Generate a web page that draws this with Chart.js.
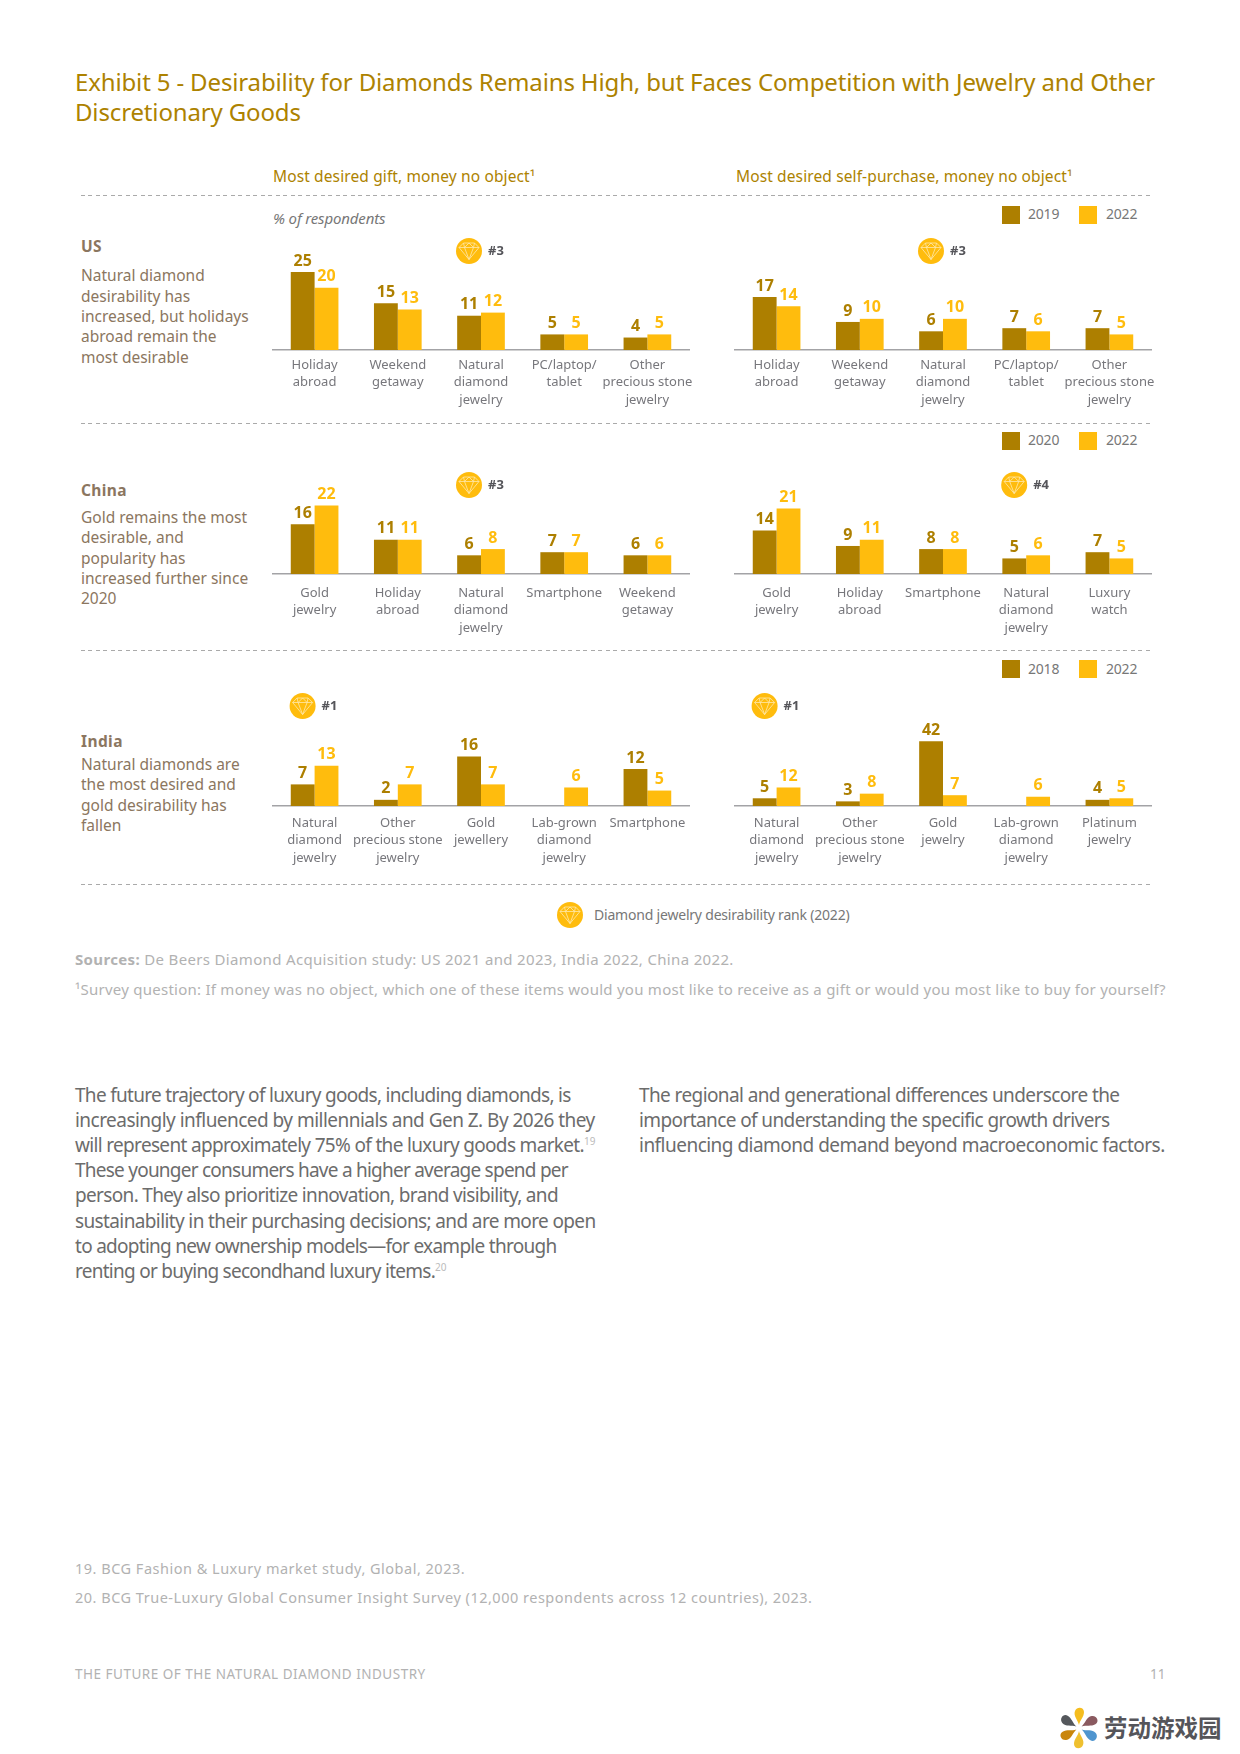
<!DOCTYPE html>
<html>
<head>
<meta charset="utf-8">
<script src="https://cdn.jsdelivr.net/npm/chart.js@4"></script>
<style>
html, body { margin: 0; padding: 0; background: #fff; }
#page { position: relative; width: 1240px; height: 1754px; overflow: hidden; font-family: "Noto Sans", sans-serif; }
#page canvas { position: absolute; }
.t { position: absolute; white-space: nowrap; line-height: 1; transform: translateY(-50%); }
.title { color: #ad8200; font-size: 24px; letter-spacing: -0.145px; }
.sub { color: #ad8200; font-size: 15.5px; letter-spacing: 0.12px; }
.unit { color: #777; font-size: 15px; font-style: italic; letter-spacing: -0.15px; }
.leg { color: #777; font-size: 14px; letter-spacing: -0.2px; }
.region { color: #8b7660; font-size: 15.5px; font-weight: 700; letter-spacing: 0.4px; }
.desc { color: #8b7660; font-size: 15.5px; letter-spacing: 0; }
.src { color: #b2b2b2; font-size: 15px; letter-spacing: 0.25px; }
.body { color: #6c6c6c; font-size: 19px; letter-spacing: -0.6px; }
.body sup { color: #bbb; font-size: 10px; vertical-align: 7px; line-height: 0; letter-spacing: 0; }
.foot { color: #b2b2b2; font-size: 14.5px; letter-spacing: 0.5px; }
.swatch { position: absolute; width: 17.5px; height: 18px; }
.dash { position: absolute; left: 81px; width: 1071px; height: 1px; background: repeating-linear-gradient(to right, #aaa 0 4px, transparent 4px 7.5px); }
</style>
</head>
<body>
<div id="page">
  <div class="t title" style="left:75px;top:82px">Exhibit 5 - Desirability for Diamonds Remains High, but Faces Competition with Jewelry and Other</div>
  <div class="t title" style="left:75px;top:112px">Discretionary Goods</div>
  <div class="t sub" style="left:273px;top:177px">Most desired gift, money no object¹</div>
  <div class="t sub" style="left:736px;top:177px">Most desired self-purchase, money no object¹</div>
  <div class="dash" style="top:195px"></div>
  <div class="dash" style="top:423px"></div>
  <div class="dash" style="top:650px"></div>
  <div class="dash" style="top:884px"></div>
  <div class="t unit" style="left:273px;top:218px">% of respondents</div>

  <div class="t region" style="left:81px;top:247px">US</div>
  <div class="t desc" style="left:81px;top:276px">Natural diamond</div>
  <div class="t desc" style="left:81px;top:297px">desirability has</div>
  <div class="t desc" style="left:81px;top:317px">increased, but holidays</div>
  <div class="t desc" style="left:81px;top:337px">abroad remain the</div>
  <div class="t desc" style="left:81px;top:358px">most desirable</div>

  <div class="t region" style="left:81px;top:491px">China</div>
  <div class="t desc" style="left:81px;top:518px">Gold remains the most</div>
  <div class="t desc" style="left:81px;top:538px">desirable, and</div>
  <div class="t desc" style="left:81px;top:559px">popularity has</div>
  <div class="t desc" style="left:81px;top:579px">increased further since</div>
  <div class="t desc" style="left:81px;top:599px">2020</div>

  <div class="t region" style="left:81px;top:742px">India</div>
  <div class="t desc" style="left:81px;top:765px">Natural diamonds are</div>
  <div class="t desc" style="left:81px;top:785px">the most desired and</div>
  <div class="t desc" style="left:81px;top:806px">gold desirability has</div>
  <div class="t desc" style="left:81px;top:826px">fallen</div>

  <div class="swatch" style="left:1002px;top:206px;background:#ad7f00"></div>
  <div class="t leg" style="left:1028px;top:214px">2019</div>
  <div class="swatch" style="left:1079px;top:206px;background:#ffbc0d"></div>
  <div class="t leg" style="left:1106px;top:214px">2022</div>
  <div class="swatch" style="left:1002px;top:432px;background:#ad7f00"></div>
  <div class="t leg" style="left:1028px;top:440px">2020</div>
  <div class="swatch" style="left:1079px;top:432px;background:#ffbc0d"></div>
  <div class="t leg" style="left:1106px;top:440px">2022</div>
  <div class="swatch" style="left:1002px;top:660px;background:#ad7f00"></div>
  <div class="t leg" style="left:1028px;top:669px">2018</div>
  <div class="swatch" style="left:1079px;top:660px;background:#ffbc0d"></div>
  <div class="t leg" style="left:1106px;top:669px">2022</div>

  <canvas id="usGift"></canvas>
  <canvas id="usSelf"></canvas>
  <canvas id="chinaGift"></canvas>
  <canvas id="chinaSelf"></canvas>
  <canvas id="indiaGift"></canvas>
  <canvas id="indiaSelf"></canvas>

  <svg id="rankBadge" style="position:absolute;left:557px;top:902px" width="26" height="26"></svg>
  <div class="t leg" style="left:594px;top:915px">Diamond jewelry desirability rank (2022)</div>

  <div class="t src" style="left:75px;top:959px;letter-spacing:0.34px"><b>Sources:</b> De Beers Diamond Acquisition study: US 2021 and 2023, India 2022, China 2022.</div>
  <div class="t src" style="left:75px;top:989px">¹Survey question: If money was no object, which one of these items would you most like to receive as a gift or would you most like to buy for yourself?</div>

  <div class="t body" style="left:75px;top:1095px;letter-spacing:-0.7px">The future trajectory of luxury goods, including diamonds, is</div>
  <div class="t body" style="left:75px;top:1120px;letter-spacing:-0.53px">increasingly influenced by millennials and Gen Z. By 2026 they</div>
  <div class="t body" style="left:75px;top:1145px;letter-spacing:-0.67px">will represent approximately 75% of the luxury goods market.<sup>19</sup></div>
  <div class="t body" style="left:75px;top:1170px;letter-spacing:-0.76px">These younger consumers have a higher average spend per</div>
  <div class="t body" style="left:75px;top:1195px;letter-spacing:-0.66px">person. They also prioritize innovation, brand visibility, and</div>
  <div class="t body" style="left:75px;top:1221px;letter-spacing:-0.62px">sustainability in their purchasing decisions; and are more open</div>
  <div class="t body" style="left:75px;top:1246px;letter-spacing:-0.72px">to adopting new ownership models—for example through</div>
  <div class="t body" style="left:75px;top:1271px;letter-spacing:-0.73px">renting or buying secondhand luxury items.<sup>20</sup></div>

  <div class="t body" style="left:639px;top:1095px">The regional and generational differences underscore the</div>
  <div class="t body" style="left:639px;top:1120px">importance of understanding the specific growth drivers</div>
  <div class="t body" style="left:639px;top:1145px;letter-spacing:-0.52px">influencing diamond demand beyond macroeconomic factors.</div>

  <div class="t foot" style="left:75px;top:1568px">19. BCG Fashion &amp; Luxury market study, Global, 2023.</div>
  <div class="t foot" style="left:75px;top:1597px">20. BCG True-Luxury Global Consumer Insight Survey (12,000 respondents across 12 countries), 2023.</div>
  <div class="t foot" style="left:75px;top:1675px;font-size:13.5px">THE FUTURE OF THE NATURAL DIAMOND INDUSTRY</div>
  <div class="t foot" style="left:1150px;top:1675px;font-size:13.5px;letter-spacing:0">11</div>

  <svg style="position:absolute;left:1057px;top:1706px" width="44" height="44" viewBox="-22 -22 44 44">
    <g id="petals"></g>
  </svg>
  <div class="t" style="left:1104px;top:1728px;font-family:'Noto Sans CJK SC';font-weight:700;font-size:23.5px;color:#55555a">劳动游戏园</div>
</div>

<script>
// US
const usGiftLabels = [['Holiday', 'abroad'], ['Weekend', 'getaway'], ['Natural', 'diamond', 'jewelry'], ['PC/laptop/', 'tablet'], ['Other', 'precious stone', 'jewelry']]
const usGift2019 = [25, 15, 11, 5, 4]
const usGift2022 = [20, 13, 12, 5, 5]
const usSelfLabels = [['Holiday', 'abroad'], ['Weekend', 'getaway'], ['Natural', 'diamond', 'jewelry'], ['PC/laptop/', 'tablet'], ['Other', 'precious stone', 'jewelry']]
const usSelf2019 = [17, 9, 6, 7, 7]
const usSelf2022 = [14, 10, 10, 6, 5]

// China
const chinaGiftLabels = [['Gold', 'jewelry'], ['Holiday', 'abroad'], ['Natural', 'diamond', 'jewelry'], ['Smartphone'], ['Weekend', 'getaway']]
const chinaGift2020 = [16, 11, 6, 7, 6]
const chinaGift2022 = [22, 11, 8, 7, 6]
const chinaSelfLabels = [['Gold', 'jewelry'], ['Holiday', 'abroad'], ['Smartphone'], ['Natural', 'diamond', 'jewelry'], ['Luxury', 'watch']]
const chinaSelf2020 = [14, 9, 8, 5, 7]
const chinaSelf2022 = [21, 11, 8, 6, 5]

// India
const indiaGiftLabels = [['Natural', 'diamond', 'jewelry'], ['Other', 'precious stone', 'jewelry'], ['Gold', 'jewellery'], ['Lab-grown', 'diamond', 'jewelry'], ['Smartphone']]
const indiaGift2018 = [7, 2, 16, null, 12]
const indiaGift2022 = [13, 7, 7, 6, 5]
const indiaSelfLabels = [['Natural', 'diamond', 'jewelry'], ['Other', 'precious stone', 'jewelry'], ['Gold', 'jewelry'], ['Lab-grown', 'diamond', 'jewelry'], ['Platinum', 'jewelry']]
const indiaSelf2018 = [5, 3, 42, null, 4]
const indiaSelf2022 = [12, 8, 7, 6, 5]

const darkGold = '#ad7f00'
const yellow = '#ffbc0d'
const gemPath = 'M-10 -3.5 L-5.5 -8 H5.5 L10 -3.5 L0 8.5 Z M-10 -3.5 H10 M-4.5 -3.5 L0 8.5 L4.5 -3.5 M-5.5 -8 L-4.5 -3.5 L0 -8 L4.5 -3.5 L5.5 -8'

// draws the value over each bar and the diamond rank badge
const barExtras = {
    id: 'barExtras',
    afterDatasetsDraw(chart, args, opts) {
        let ctx = chart.ctx
        ctx.save()
        ctx.textAlign = 'center'
        ctx.textBaseline = 'middle'
        ctx.font = 'bold 16px "Noto Sans"'
        chart.data.datasets.forEach((ds, i) => {
            ctx.fillStyle = ds.backgroundColor
            chart.getDatasetMeta(i).data.forEach((bar, j) => {
                if (ds.data[j] === null) return
                ctx.fillText(ds.data[j], bar.x, bar.y - 11)
            })
        })

        let bx = chart.scales.x.getPixelForValue(opts.rankIndex) - 12
        let by = chart.chartArea.top + 15
        ctx.fillStyle = yellow
        ctx.beginPath()
        ctx.arc(bx, by, 13, 0, Math.PI * 2)
        ctx.fill()
        ctx.translate(bx, by)
        ctx.strokeStyle = '#ffe9ac'
        ctx.lineWidth = 0.8
        ctx.stroke(new Path2D(gemPath))
        ctx.translate(-bx, -by)
        ctx.fillStyle = '#55555a'
        ctx.textAlign = 'left'
        ctx.font = 'bold 13px "Noto Sans"'
        ctx.fillText(opts.rank, bx + 19, by)
        ctx.restore()
    }
}

// top/baseline in page px, unit = px per percentage point, pad = gap under the axis
function printBars(id, labels, oldYear, oldValues, newValues, rankIndex, rank, plotLeft, top, baseline, unit, pad) {
    let canvas = document.getElementById(id)
    let plotHeight = baseline - top
    let side = 25
    let below = 80
    canvas.width = 416 + side * 2
    canvas.height = plotHeight + below
    canvas.style.left = (plotLeft - side) + 'px'
    canvas.style.top = top + 'px'

    new Chart(canvas, {
        type: 'bar',
        data: {
            labels: labels,
            datasets: [
                { label: oldYear, data: oldValues, backgroundColor: darkGold },
                { label: '2022', data: newValues, backgroundColor: yellow }
            ]
        },
        plugins: [barExtras],
        options: {
            responsive: false,
            animation: false,
            layout: { padding: { left: side, right: side } },
            datasets: { bar: { barPercentage: 1, categoryPercentage: 0.573 } },
            plugins: {
                legend: { display: false },
                tooltip: { enabled: false },
                barExtras: { rankIndex: rankIndex, rank: rank }
            },
            scales: {
                x: {
                    grid: { display: false, drawTicks: false },
                    border: { display: true, color: '#a3a3a6', width: 1.5 },
                    afterFit(scale) { scale.height = below },
                    ticks: {
                        autoSkip: false,
                        maxRotation: 0,
                        minRotation: 0,
                        padding: pad,
                        color: '#77777c',
                        font: { family: '"Noto Sans"', size: 13, lineHeight: 1.37 }
                    }
                },
                y: { display: false, min: 0, max: plotHeight / unit }
            }
        }
    })
}

printBars('usGift', usGiftLabels, '2019', usGift2019, usGift2022, 2, '#3', 273, 236, 350.5, 3.13, 6)
printBars('usSelf', usSelfLabels, '2019', usSelf2019, usSelf2022, 2, '#3', 735, 236, 350.5, 3.13, 6)
printBars('chinaGift', chinaGiftLabels, '2020', chinaGift2020, chinaGift2022, 2, '#3', 273, 470, 574.5, 3.13, 10)
printBars('chinaSelf', chinaSelfLabels, '2020', chinaSelf2020, chinaSelf2022, 3, '#4', 735, 470, 574.5, 3.13, 10)
printBars('indiaGift', indiaGiftLabels, '2018', indiaGift2018, indiaGift2022, 0, '#1', 273, 691, 806.5, 3.1, 8)
printBars('indiaSelf', indiaSelfLabels, '2018', indiaSelf2018, indiaSelf2022, 0, '#1', 735, 691, 806.5, 1.55, 8)

// legend badge for the rank, same gem as inside the charts
document.getElementById('rankBadge').innerHTML =
    '<circle cx="13" cy="13" r="13" fill="' + yellow + '"/>' +
    '<path transform="translate(13 13)" d="' + gemPath + '" fill="none" stroke="#ffe9ac" stroke-width="0.8"/>'

// pinwheel of the watermark logo
let petalColors = ['#f5bd1f', '#8a5a60', '#4f95cf', '#efc02f', '#c9860c', '#55585c']
document.getElementById('petals').innerHTML = petalColors.map((c, i) =>
    '<path transform="rotate(' + (i * 60) + ')" d="M0 -3 C-1 -8 -6 -12 -4 -17 C-2 -22 5 -21 5 -16 C5 -11 1 -8 0 -3 Z" fill="' + c + '"/>').join('')
</script>
</body>
</html>
